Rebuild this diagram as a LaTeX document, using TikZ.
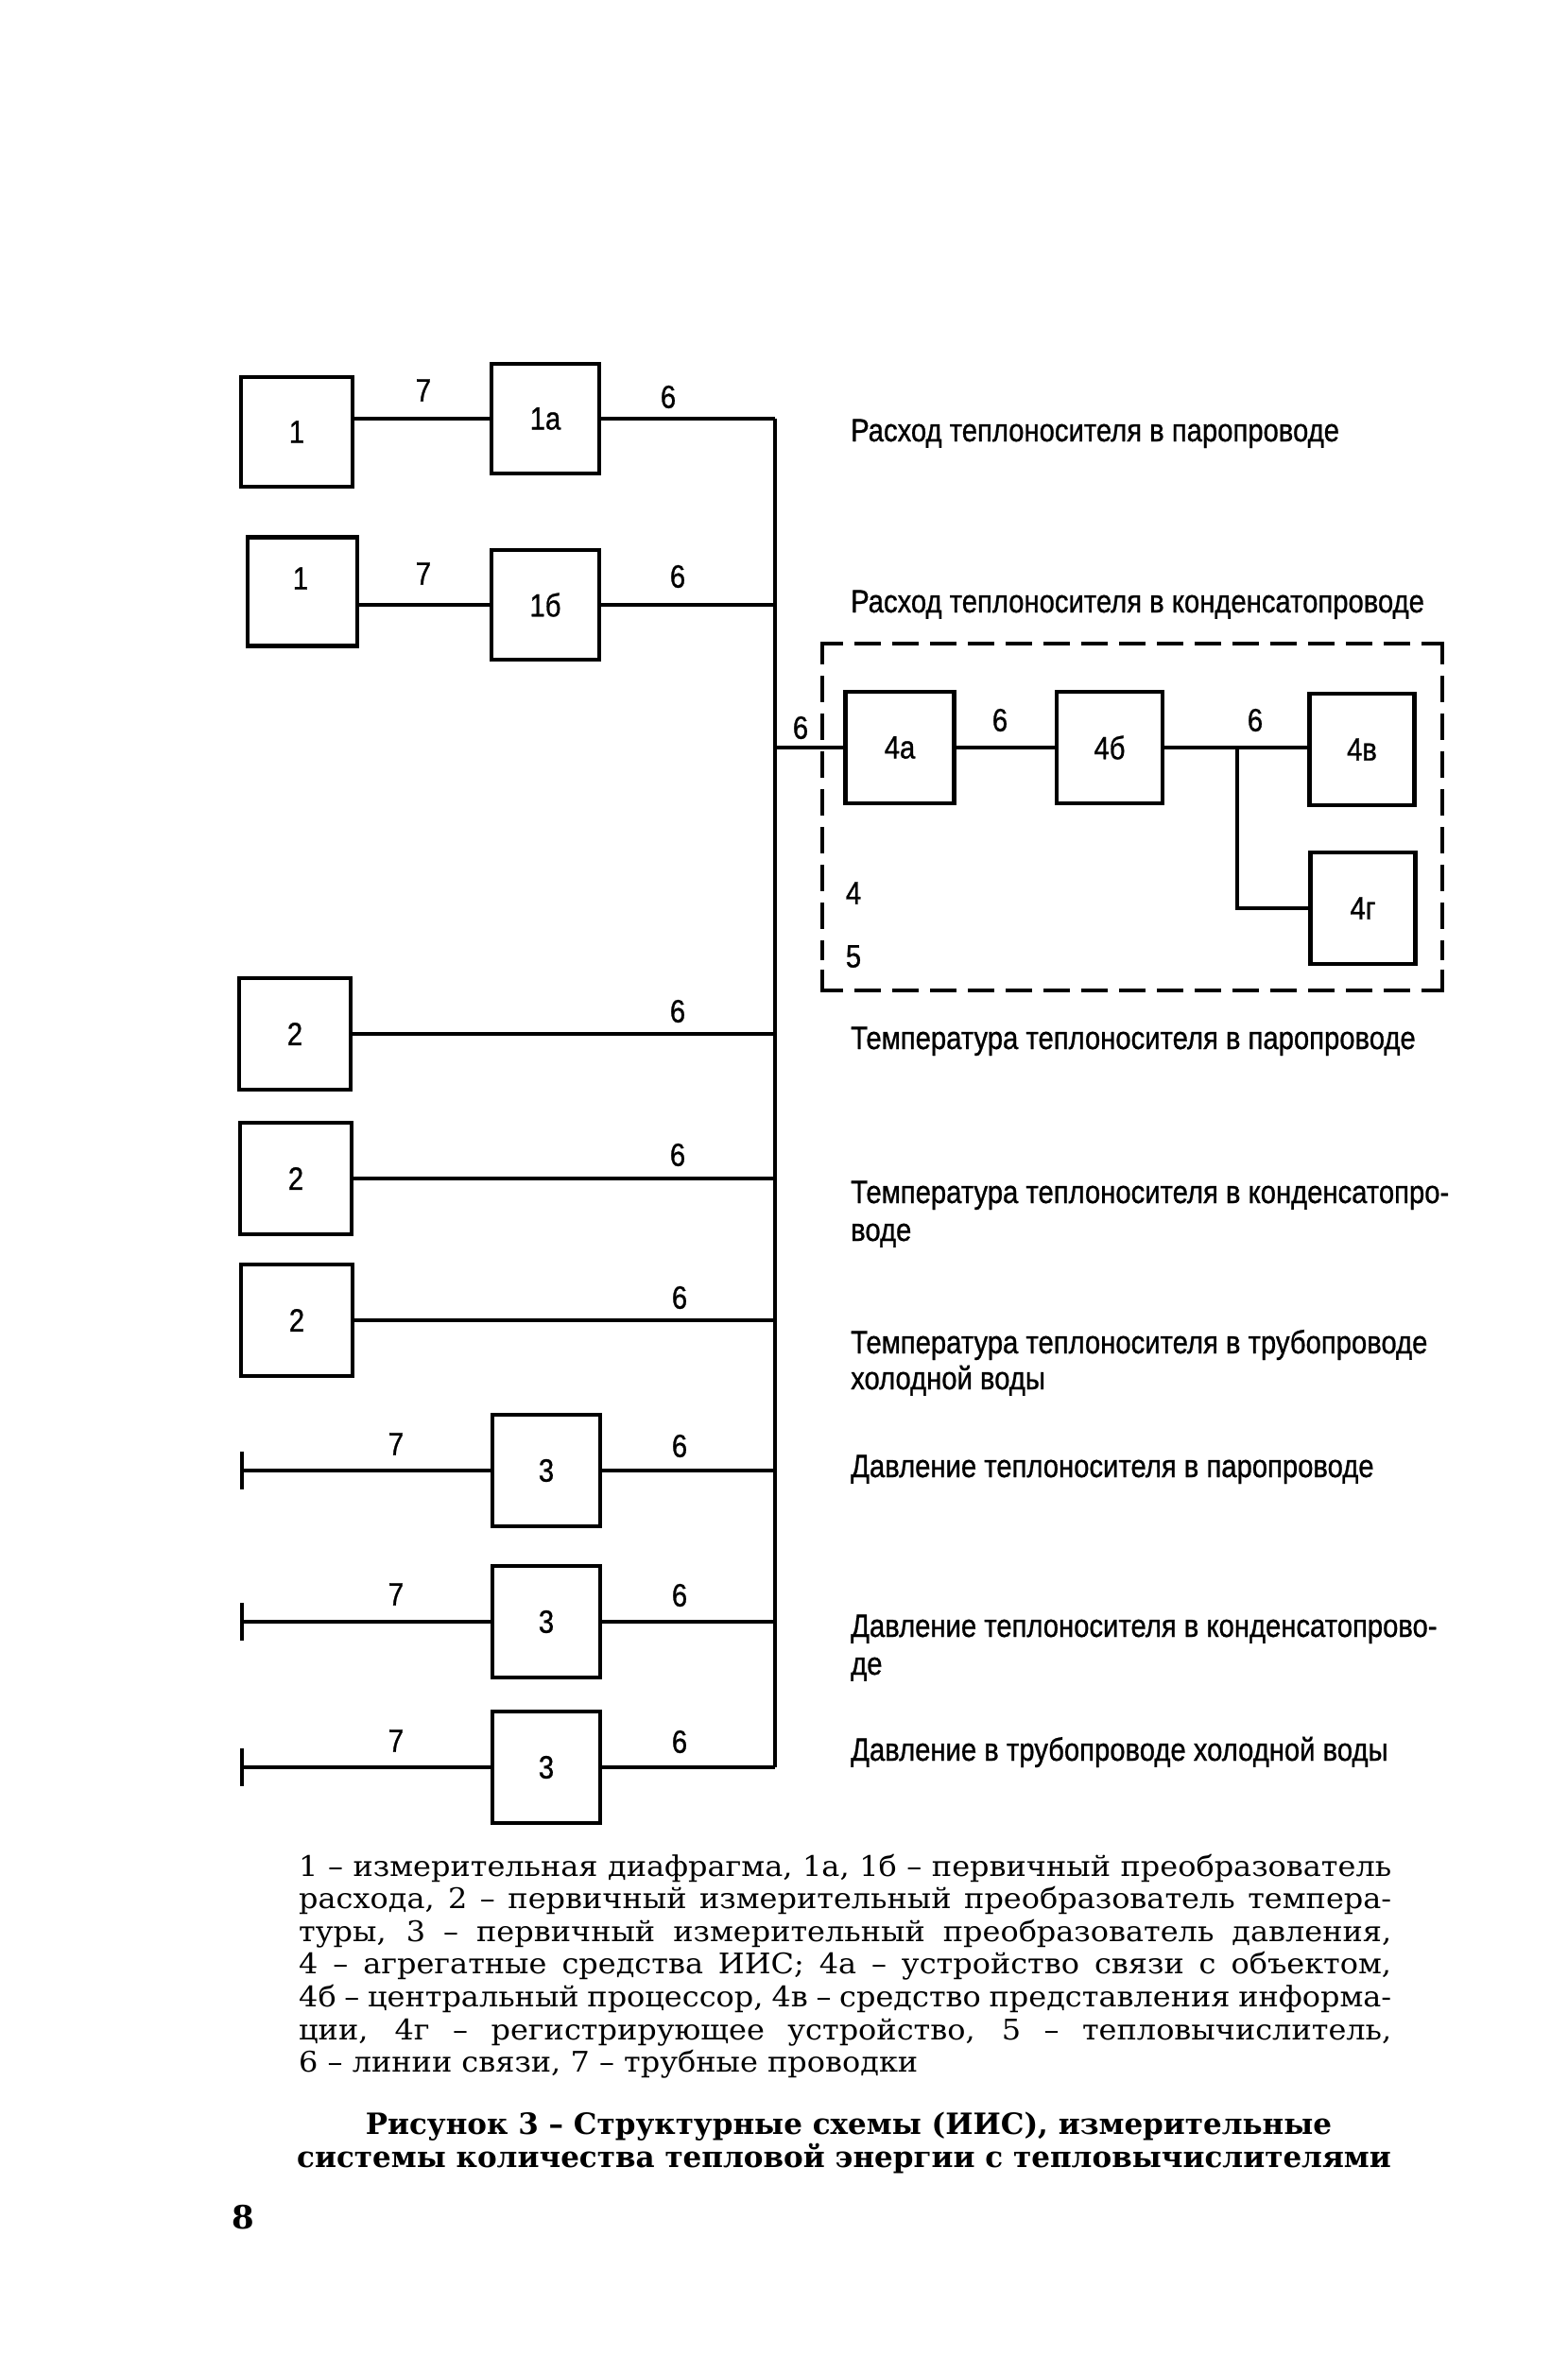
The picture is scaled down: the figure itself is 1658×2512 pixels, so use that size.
\documentclass[tikz,border=0pt]{standalone}
\usepackage{fontspec}
\newfontfamily\narrowsans[FakeStretch=0.86,FakeBold=0.8]{Liberation Sans}
\newfontfamily\legserif[FakeStretch=1.065]{DejaVu Serif}
\newfontfamily\capserif[FakeStretch=1.0]{DejaVu Serif}
\newcommand\bxfont{\narrowsans\fontsize{34}{38}\selectfont}
\newcommand\dscfont{\narrowsans\fontsize{34}{38}\selectfont}
\newcommand\lgfont{\legserif\fontsize{30}{34}\selectfont}
\newcommand\capfont{\capserif\bfseries\fontsize{31}{35}\selectfont}
\begin{document}
\begin{tikzpicture}[x=1pt,y=-1pt,
  box/.style={draw, line width=4.2pt, minimum width=114pt, minimum height=116pt, inner sep=0pt, font=\bxfont},
  wire/.style={line width=4.2pt},
  dashline/.style={line width=3.8pt, dash pattern=on 28pt off 12pt},
  num/.style={inner sep=0pt, font=\bxfont},
  desc/.style={inner sep=0pt, anchor=base west, font=\dscfont},
  legline/.style={inner sep=0pt, anchor=base west, font=\lgfont},
  capline/.style={inner sep=0pt, anchor=base, font=\capfont},
]
\fill[white] (0,0) rectangle (1658,2512);
\useasboundingbox (0,0) rectangle (1658,2512);

% ---- boxes
\node[box, minimum width=118pt] (b1t) at (314,457) {1};
\node[box] (b1a) at (577,443) {1а};
\node[box, minimum width=116pt, minimum height=115pt] (b1u) at (320,626) {};
\node[num] (b1utxt) at (318,612) {1};
\node[box] (b1b) at (577,640) {1б};

\node[box, minimum width=118pt, minimum height=118pt] (b2a) at (312,1094) {2};
\node[box, minimum width=118pt, minimum height=118pt] (b2b) at (313,1247) {2};
\node[box, minimum width=118pt, minimum height=118pt] (b2c) at (314,1397) {2};

\node[box, minimum height=118pt] (b3a) at (578,1556) {3};
\node[box, minimum height=118pt] (b3b) at (578,1716) {3};
\node[box, minimum height=118pt] (b3c) at (578,1870) {3};

\node[box, minimum width=115pt, minimum height=118pt] (b4a) at (952,791) {4а};
\node[box, minimum width=112pt, minimum height=118pt] (b4b) at (1174,791) {4б};
\node[box, minimum width=111pt, minimum height=118pt] (b4v) at (1441,793) {4в};
\node[box, minimum width=111pt, minimum height=118pt] (b4g) at (1442,961) {4г};

% ---- bus and free ends
\coordinate (busx) at (820,0);
\coordinate (k3a) at (256,1556);
\coordinate (k3b) at (256,1716);
\coordinate (k3c) at (256,1870);
\coordinate (br) at (1309,0);

% ---- connectors
\draw[wire] (b1t.east |- b1a.west) -- (b1a.west);
\draw[wire] (b1u.east |- b1b.west) -- (b1b.west);
\draw[wire] (b1a.east) -- (b1a.east -| busx);
\draw[wire] (b1b.east) -- (b1b.east -| busx);
\draw[wire] (b1a.east -| busx) -- (b3c.east -| busx);
\draw[wire] (b4a.west -| busx) -- (b4a.west);
\draw[wire] (b2a.east) -- (b2a.east -| busx);
\draw[wire] (b2b.east) -- (b2b.east -| busx);
\draw[wire] (b2c.east) -- (b2c.east -| busx);
\draw[wire] (k3a) -- (b3a.west);
\draw[wire] (k3b) -- (b3b.west);
\draw[wire] (k3c) -- (b3c.west);
\draw[wire] ([yshift=20pt]k3a) -- ([yshift=-20pt]k3a);
\draw[wire] ([yshift=20pt]k3b) -- ([yshift=-20pt]k3b);
\draw[wire] ([yshift=20pt]k3c) -- ([yshift=-20pt]k3c);
\draw[wire] (b3a.east) -- (b3a.east -| busx);
\draw[wire] (b3b.east) -- (b3b.east -| busx);
\draw[wire] (b3c.east) -- (b3c.east -| busx);
\draw[wire] (b4a.east) -- (b4a.east -| b4b.west);
\draw[wire] (b4b.east) -- (b4b.east -| b4v.west);
\draw[wire] (b4b.east -| br) |- (b4g.west);

% ---- dashed group (4, 5)
\draw[wire, line width=3.8pt] (870,703) -- (870,681) -- (892,681);
\draw[wire, line width=3.8pt] (1504,681) -- (1526,681) -- (1526,703);
\draw[wire, line width=3.8pt] (870,1026) -- (870,1048) -- (892,1048);
\draw[wire, line width=3.8pt] (1504,1048) -- (1526,1048) -- (1526,1026);
\draw[dashline] (904,681) -- (1494,681);
\draw[dashline] (904,1048) -- (1494,1048);
\draw[dashline] (870,715) -- (870,1016);
\draw[dashline] (1526,715) -- (1526,1016);

% ---- line labels
\node[num] (l7a) at (448,413) {7};
\node[num] (l6a) at (707,420) {6};
\node[num] (l7b) at (448,607) {7};
\node[num] (l6b) at (717,610) {6};
\node[num] (l6c) at (717,1070) {6};
\node[num] (l6d) at (717,1222) {6};
\node[num] (l6e) at (719,1373) {6};
\node[num] (l7f) at (419,1528) {7};
\node[num] (l6f) at (719,1530) {6};
\node[num] (l7g) at (419,1687) {7};
\node[num] (l6g) at (719,1688) {6};
\node[num] (l7h) at (419,1842) {7};
\node[num] (l6h) at (719,1843) {6};
\node[num] (l6i) at (847,770) {6};
\node[num] (l6j) at (1058,762) {6};
\node[num] (l6k) at (1328,762) {6};
\node[num] (l4) at (903,945) {4};
\node[num] (l5) at (903,1012) {5};

% ---- descriptions
\node[desc] (d1) at (900,467) {Расход теплоносителя в паропроводе};
\node[desc] (d2) at (900,648) {Расход теплоносителя в конденсатопроводе};
\node[desc] (d3) at (900,1110) {Температура теплоносителя в паропроводе};
\node[desc] (d4a) at (900,1273) {Температура теплоносителя в конденсатопро-};
\node[desc] (d4b) at (900,1313) {воде};
\node[desc] (d5a) at (900,1432) {Температура теплоносителя в трубопроводе};
\node[desc] (d5b) at (900,1470) {холодной воды};
\node[desc] (d6) at (900,1563) {Давление теплоносителя в паропроводе};
\node[desc] (d7a) at (900,1732) {Давление теплоносителя в конденсатопрово-};
\node[desc] (d7b) at (900,1772) {де};
\node[desc] (d8) at (900,1863) {Давление в трубопроводе холодной воды};

% ---- legend
\node[legline] (g1) at (316,1985) {\makebox[1156pt][s]{1 – измерительная диафрагма, 1а, 1б – первичный преобразователь}};
\node[legline] (g2) at (316,2019.6) {\makebox[1156pt][s]{расхода, 2 – первичный измерительный преобразователь темпера-}};
\node[legline] (g3) at (316,2054.2) {\makebox[1156pt][s]{туры, 3 – первичный измерительный преобразователь давления,}};
\node[legline] (g4) at (316,2088.8) {\makebox[1156pt][s]{4 – агрегатные средства ИИС; 4а – устройство связи с объектом,}};
\node[legline] (g5) at (316,2123.4) {\makebox[1156pt][s]{4б – центральный процессор, 4в – средство представления информа-}};
\node[legline] (g6) at (316,2158) {\makebox[1156pt][s]{ции, 4г – регистрирующее устройство, 5 – тепловычислитель,}};
\node[legline] (g7) at (316,2192.6) {6 – линии связи, 7 – трубные проводки};

% ---- caption
\node[capline] (c1) at (898,2258) {Рисунок 3 – Структурные схемы (ИИС), измерительные};
\node[capline] (c2) at (893,2293) {системы количества тепловой энергии с тепловычислителями};
\node[capline, anchor=base west, font=\capserif\bfseries\fontsize{34}{38}\selectfont] (pg) at (245,2358) {8};
\end{tikzpicture}
\end{document}
